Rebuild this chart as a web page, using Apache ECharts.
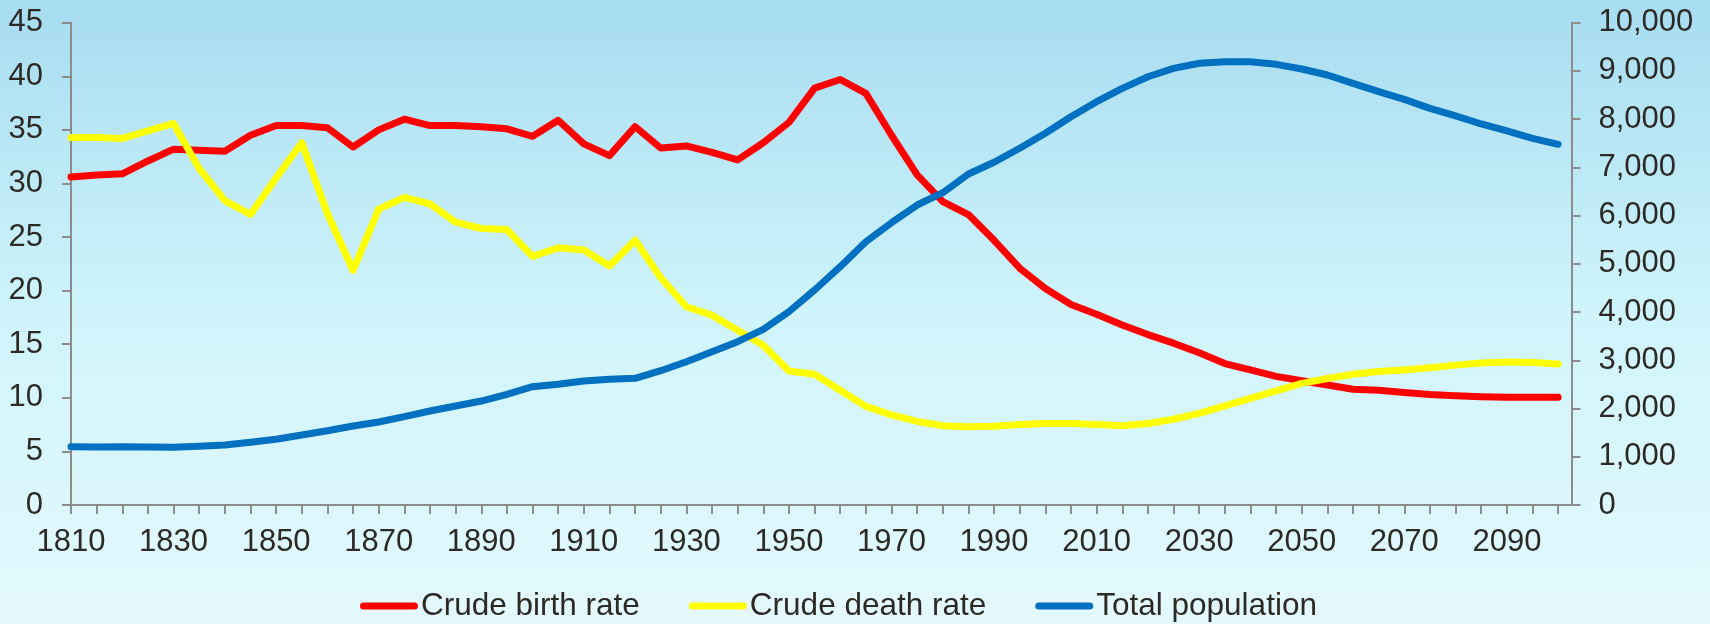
<!DOCTYPE html>
<html>
<head>
<meta charset="utf-8">
<script src="https://cdn.jsdelivr.net/npm/echarts@6/dist/echarts.min.js"></script>
<style>
  html, body { margin: 0; padding: 0; }
  #chart { width: 1710px; height: 624px; }
</style>
</head>
<body>
<div id="chart"></div>
<script>
// years, every 5 years
var years = [1810, 1815, 1820, 1825, 1830, 1835, 1840, 1845, 1850, 1855,
  1860, 1865, 1870, 1875, 1880, 1885, 1890, 1895, 1900, 1905,
  1910, 1915, 1920, 1925, 1930, 1935, 1940, 1945, 1950, 1955,
  1960, 1965, 1970, 1975, 1980, 1985, 1990, 1995, 2000, 2005,
  2010, 2015, 2020, 2025, 2030, 2035, 2040, 2045, 2050, 2055,
  2060, 2065, 2070, 2075, 2080, 2085, 2090, 2095, 2100];

// per 1000
var birthRate = [30.6, 30.8, 30.9, 32.1, 33.2, 33.1, 33.0, 34.5, 35.4, 35.4,
  35.2, 33.4, 35.0, 36.0, 35.4, 35.4, 35.3, 35.1, 34.4, 35.9,
  33.7, 32.6, 35.3, 33.3, 33.5, 32.9, 32.2, 33.8, 35.7, 38.9,
  39.7, 38.4, 34.5, 30.8, 28.3, 27.1, 24.7, 22.1, 20.2, 18.7,
  17.8, 16.8, 15.9, 15.1, 14.2, 13.2, 12.6, 12.0, 11.6, 11.2,
  10.8, 10.7, 10.5, 10.3, 10.2, 10.1, 10.05, 10.05, 10.05];

var deathRate = [34.3, 34.3, 34.2, 34.9, 35.6, 31.4, 28.4, 27.1, 30.5, 33.8,
  27.2, 21.9, 27.6, 28.7, 28.1, 26.4, 25.8, 25.7, 23.2, 24.0,
  23.8, 22.3, 24.7, 21.2, 18.5, 17.7, 16.3, 14.9, 12.5, 12.2,
  10.7, 9.2, 8.4, 7.8, 7.4, 7.3, 7.35, 7.5, 7.6, 7.6,
  7.5, 7.4, 7.6, 8.0, 8.55, 9.25, 9.95, 10.65, 11.35, 11.8,
  12.2, 12.45, 12.6, 12.8, 13.05, 13.25, 13.35, 13.3, 13.15];

// millions
var population = [1209, 1205, 1209, 1200, 1196, 1217, 1244, 1300, 1362, 1451,
  1541, 1638, 1721, 1831, 1949, 2053, 2156, 2295, 2453, 2502,
  2571, 2606, 2627, 2785, 2971, 3179, 3386, 3643, 4008, 4458,
  4941, 5459, 5853, 6220, 6475, 6863, 7106, 7396, 7707, 8051,
  8362, 8639, 8880, 9054, 9158, 9192, 9192, 9137, 9040, 8916,
  8743, 8570, 8411, 8224, 8066, 7900, 7755, 7603, 7479];

var leftTicks = { min: 0, max: 45, step: 5 };
var rightTicks = { min: 0, max: 10000, step: 1000 };

function pairs(vals) {
  return years.map(function (y, i) { return [y, vals[i]]; });
}

var textColor = '#2d2a26';
var axisColor = '#8c8c8c';
var font = 'Liberation Sans, Arial, sans-serif';
var legendIcon = 'path://M3.5,0 H54.5 A3.5,3.5 0 0 1 54.5,7 H3.5 A3.5,3.5 0 0 1 3.5,0 Z';

var myChart = echarts.init(document.getElementById('chart'));

var option = {
  backgroundColor: new echarts.graphic.LinearGradient(0, 0, 0, 1, [
    { offset: 0, color: '#a7dcf1' },
    { offset: 0.5, color: '#cff4fb' },
    { offset: 1, color: '#e4f9fd' }
  ]),
  animation: false,
  grid: {
    left: 71,
    right: 138.5,
    top: 22.7,
    bottom: 119,
    containLabel: false
  },
  legend: {
    left: 360,
    top: 590,
    padding: 0,
    itemWidth: 58,
    itemHeight: 7,
    itemGap: 49,
    textStyle: {
      color: textColor,
      fontSize: 31.5,
      fontFamily: font,
      padding: [0, 0, 0, -2]
    },
    data: [
      { name: 'Crude birth rate', icon: legendIcon },
      { name: 'Crude death rate', icon: legendIcon },
      { name: 'Total population', icon: legendIcon }
    ]
  },
  xAxis: {
    type: 'value',
    min: 1810,
    max: 2102.6,
    interval: 5,
    splitLine: { show: false },
    axisLine: { lineStyle: { color: axisColor, width: 2 } },
    axisTick: { length: 9, lineStyle: { color: axisColor, width: 2 } },
    axisLabel: {
      margin: 22,
      color: textColor,
      fontSize: 31,
      fontFamily: font,
      showMaxLabel: false,
      formatter: function (v) {
        return (v - 1810) % 20 === 0 ? String(v) : '';
      }
    }
  },
  yAxis: [{
    type: 'value',
    position: 'left',
    min: leftTicks.min,
    max: leftTicks.max,
    interval: leftTicks.step,
    splitLine: { show: false },
    axisLine: { show: true, lineStyle: { color: axisColor, width: 2 } },
    axisTick: { show: true, length: 9, lineStyle: { color: axisColor, width: 2 } },
    axisLabel: { margin: 28, color: textColor, fontSize: 31, fontFamily: font }
  }, {
    type: 'value',
    position: 'right',
    min: rightTicks.min,
    max: rightTicks.max,
    interval: rightTicks.step,
    splitLine: { show: false },
    axisLine: { show: true, lineStyle: { color: axisColor, width: 2 } },
    axisTick: { show: true, length: 9, lineStyle: { color: axisColor, width: 2 } },
    axisLabel: {
      margin: 27,
      color: textColor,
      fontSize: 31,
      fontFamily: font,
      formatter: function (v) { return v.toLocaleString('en-US'); }
    }
  }],
  series: [{
    name: 'Crude birth rate',
    type: 'line',
    yAxisIndex: 0,
    showSymbol: false,
    symbol: 'none',
    color: '#ff0000',
    lineStyle: { color: '#ff0000', width: 7, join: 'round', cap: 'round' },
    data: pairs(birthRate)
  }, {
    name: 'Crude death rate',
    type: 'line',
    yAxisIndex: 0,
    showSymbol: false,
    symbol: 'none',
    color: '#ffff00',
    lineStyle: { color: '#ffff00', width: 7, join: 'round', cap: 'round' },
    data: pairs(deathRate)
  }, {
    name: 'Total population',
    type: 'line',
    yAxisIndex: 1,
    showSymbol: false,
    symbol: 'none',
    color: '#0070c0',
    lineStyle: { color: '#0070c0', width: 7, join: 'round', cap: 'round' },
    data: pairs(population)
  }]
};

myChart.setOption(option);
</script>
</body>
</html>
